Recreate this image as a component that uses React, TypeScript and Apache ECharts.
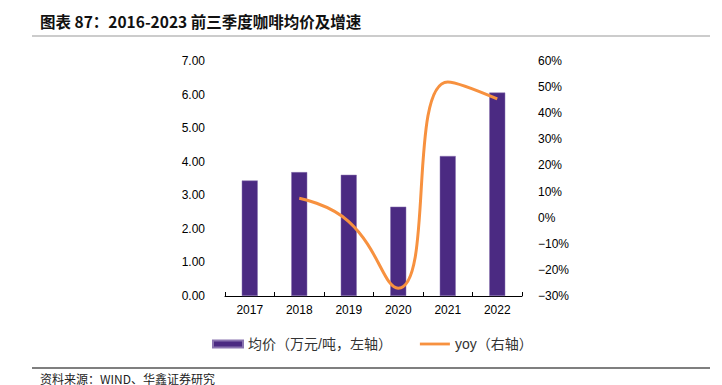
import React, { useEffect, useRef } from "react";
import * as echarts from "echarts";

const categories = ["2017", "2018", "2019", "2020", "2021", "2022"];
const avgPrice = [3.44, 3.69, 3.61, 2.66, 4.17, 6.06];
const yoy = [null, 7.4, -1.5, -27, 52, 45.5];
const titleText = "图表 87：2016-2023 前三季度咖啡均价及增速";
const sourceText = "资料来源：WIND、华鑫证券研究";
const priceName = "均价（万元/吨，左轴）";
const yoyName = "yoy（右轴）";

const CJK = '"Liberation Sans", "Noto Sans CJK SC", sans-serif';

export default function App() {
  const ref = useRef<HTMLDivElement>(null);
  useEffect(() => {
    if (!ref.current) return;
    const chart = echarts.init(ref.current, null, { renderer: "svg" });
    chart.setOption({
      animation: false,
      backgroundColor: "#ffffff",
      textStyle: { fontFamily: CJK },
      grid: { left: 225, right: 200, top: 61, bottom: 89 },
      legend: {
        left: 207,
        top: 332,
        itemGap: 28,
        textStyle: { fontSize: 14, color: "#333", fontFamily: CJK },
        data: [
          { name: priceName, icon: "rect", itemStyle: { color: "#4B2A82" } },
          { name: yoyName, icon: "path://M0,0 L32,0 L32,3 L0,3 Z", itemStyle: { color: "#F7913F" } },
        ],
        itemWidth: 30,
        itemHeight: 7,
      },
      graphic: [
        {
          type: "text",
          left: 40,
          top: 13,
          style: {
            text: titleText,
            font: 'bold 15.5px "Noto Sans CJK SC", sans-serif',
            fill: "#111",
          },
        },
        {
          type: "line",
          shape: { x1: 32, y1: 36, x2: 710, y2: 36 },
          style: { stroke: "#999", lineWidth: 1 },
        },
        {
          type: "line",
          shape: { x1: 32, y1: 368, x2: 710, y2: 368 },
          style: { stroke: "#555", lineWidth: 1.5 },
        },
        {
          type: "text",
          x: 40,
          y: 378,
          style: {
            text: sourceText,
            font: '12px "Noto Sans CJK SC", sans-serif',
            fill: "#222",
            verticalAlign: "middle",
          },
        },
      ],
      xAxis: {
        type: "category",
        data: categories,
        axisLine: { show: true, lineStyle: { color: "#000", width: 1 } },
        axisTick: { show: true, inside: true, length: 4, alignWithLabel: false, lineStyle: { color: "#000" } },
        axisLabel: { color: "#000", fontSize: 12, margin: 8, fontFamily: '"Liberation Sans", sans-serif' },
      },
      yAxis: [
        {
          type: "value",
          min: 0,
          max: 7,
          interval: 1,
          axisLine: { show: false },
          axisTick: { show: false },
          splitLine: { show: false },
          axisLabel: {
            color: "#000",
            fontSize: 12,
            margin: 20,
            fontFamily: '"Liberation Sans", sans-serif',
            formatter: (v: number) => v.toFixed(2),
          },
        },
        {
          type: "value",
          min: -30,
          max: 60,
          interval: 10,
          axisLine: { show: false },
          axisTick: { show: false },
          splitLine: { show: false },
          axisLabel: {
            color: "#000",
            fontSize: 12,
            margin: 16,
            fontFamily: '"Liberation Sans", sans-serif',
            formatter: (v: number) => (v < 0 ? "\u2212" + Math.abs(v) : v) + "%",
          },
        },
      ],
      series: [
        {
          name: priceName,
          type: "bar",
          data: avgPrice,
          barWidth: 16,
          itemStyle: { color: "#4B2A82", borderColor: "#8A74B0", borderWidth: 0.5 },
        },
        {
          name: yoyName,
          type: "line",
          yAxisIndex: 1,
          data: yoy,
          smooth: 0.5,
          showSymbol: false,
          symbol: "none",
          lineStyle: { color: "#F7913F", width: 3 },
          itemStyle: { color: "#F7913F" },
        },
      ],
    });
    return () => chart.dispose();
  }, []);
  return (
    <div
      ref={ref}
      style={{ position: "absolute", left: 0, top: 0, width: 722, height: 385 }}
    />
  );
}
